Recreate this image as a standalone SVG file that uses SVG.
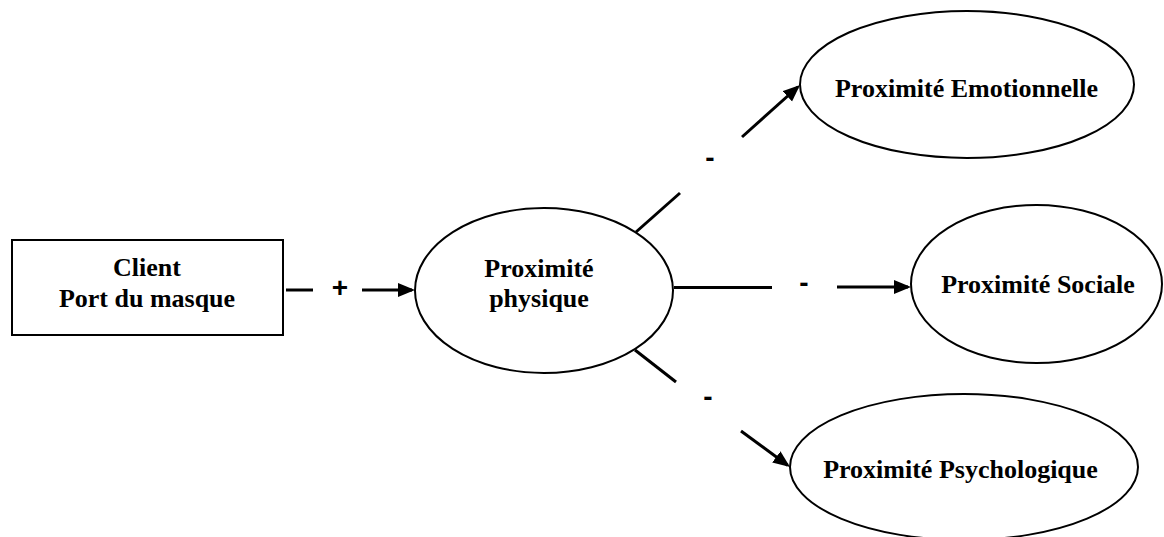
<svg xmlns="http://www.w3.org/2000/svg" width="1164" height="537" viewBox="0 0 1164 537">
<style>
.node{fill:#fff;stroke:#000;stroke-width:2}
.lbl{font-family:"Liberation Serif","Times New Roman",serif;font-weight:bold;font-size:26px;fill:#000;text-anchor:middle}
.sign{font-family:"Liberation Sans",Arial,sans-serif;font-weight:bold;font-size:28px;fill:#000;text-anchor:middle}
.edge{stroke:#000;stroke-width:3;fill:none}
</style>
<defs>
<marker id="arr" markerUnits="userSpaceOnUse" markerWidth="19" markerHeight="16" refX="14" refY="7" orient="auto">
<path d="M0,0 L17,7 L0,14 z" fill="#000"/>
</marker>
</defs>
<rect width="1164" height="537" fill="#fff"/>
<g id="connectors">
<line class="edge" x1="286" y1="290" x2="313" y2="290"/>
<line class="edge" x1="362" y1="290" x2="412" y2="290" marker-end="url(#arr)"/>
<line class="edge" x1="636" y1="232" x2="680" y2="193"/>
<line class="edge" x1="742" y1="137" x2="797.8" y2="87" marker-end="url(#arr)"/>
<line class="edge" x1="674" y1="287.5" x2="772" y2="287.5"/>
<line class="edge" x1="837" y1="287" x2="908" y2="287" marker-end="url(#arr)"/>
<line class="edge" x1="635" y1="350" x2="676" y2="382"/>
<line class="edge" x1="741" y1="431" x2="787.6" y2="465.2" marker-end="url(#arr)"/>
<text class="sign" x="340" y="296.8">+</text>
<text class="sign" x="710" y="167.3">-</text>
<text class="sign" x="804" y="291.6">-</text>
<text class="sign" x="708" y="406">-</text>
</g>
<g id="client">
<rect class="node" x="12" y="240" width="271" height="95"/>
<text class="lbl" x="147" y="276">Client</text>
<text class="lbl" x="147" y="307">Port du masque</text>
</g>
<g id="physique">
<ellipse class="node" cx="544" cy="290.5" rx="129" ry="82.5"/>
<text class="lbl" x="539" y="277">Proximité</text>
<text class="lbl" x="539" y="307">physique</text>
</g>
<g id="emotionnelle">
<ellipse class="node" cx="967" cy="84.5" rx="167" ry="73.5"/>
<text class="lbl" x="966.5" y="97">Proximité Emotionnelle</text>
</g>
<g id="sociale">
<ellipse class="node" cx="1036.5" cy="284" rx="125.5" ry="79"/>
<text class="lbl" x="1038" y="293">Proximité Sociale</text>
</g>
<g id="psychologique">
<ellipse class="node" cx="964" cy="467" rx="174" ry="73"/>
<text class="lbl" x="960.5" y="478">Proximité Psychologique</text>
</g>
</svg>
